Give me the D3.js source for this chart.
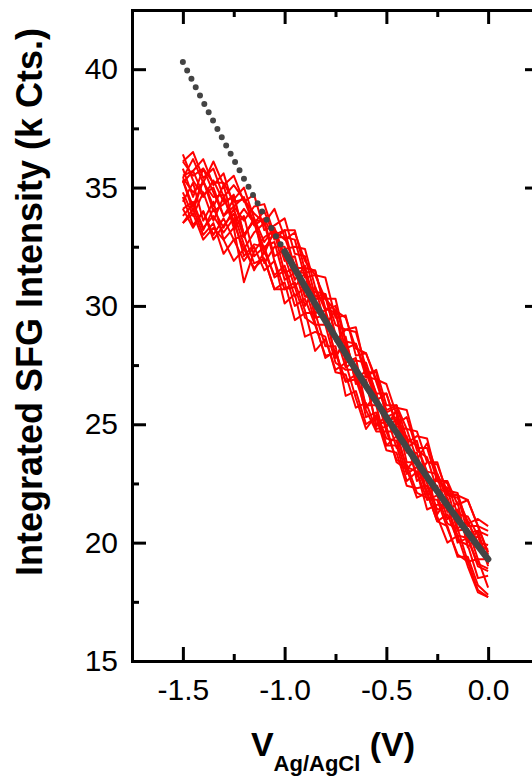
<!DOCTYPE html>
<meta charset="utf-8">
<style>
  body { margin: 0; background: #fff; }
  #sfgChart { font-family: 'Liberation Sans', Arial, sans-serif; }
  #sfgChart .axis path, #sfgChart .axis line { stroke: #000; stroke-width: 3; }
  #sfgChart .axis text { fill: #000; font-size: 30px; font-family: 'Liberation Sans', Arial, sans-serif; }
</style>
<div id="sfgChart"></div>
<script src="https://d3js.org/d3.v7.min.js"></script>
<script>
  // potential axis (V vs Ag/AgCl), one value every 50 mV
  var voltage = [-1.5, -1.45, -1.4, -1.35, -1.3, -1.25, -1.2, -1.15, -1.1, -1.05, -1.0,
    -0.95, -0.9, -0.85, -0.8, -0.75, -0.7, -0.65, -0.6, -0.55, -0.5,
    -0.45, -0.4, -0.35, -0.3, -0.25, -0.2, -0.15, -0.1, -0.05, 0.0];

  // integrated SFG intensity of each scan (k Cts.)
  var scan1 = [35.3, 34.2, 35.3, 34.2, 35.1, 33.5, 34.1, 33.5, 32.2, 33.2, 31.9, 32.1, 30.4, 30.6, 30.5, 28.7, 28.4, 26.8, 27.3, 26.2, 24.9, 25.2, 24.0, 24.3, 22.6, 22.6, 22.3, 20.6, 20.9, 19.9, 19.7];
  var scan2 = [34.1, 34.4, 33.3, 33.8, 33.1, 33.7, 32.1, 32.6, 32.5, 31.2, 31.5, 30.0, 30.3, 29.2, 29.2, 27.6, 27.3, 27.3, 25.3, 25.5, 24.4, 24.3, 22.9, 23.2, 22.1, 20.9, 21.2, 20.1, 19.9, 18.5, 18.6];
  var scan3 = [36.1, 36.5, 35.4, 35.8, 34.6, 35.1, 34.5, 33.4, 33.7, 32.8, 33.2, 31.6, 31.6, 31.5, 29.9, 29.7, 28.2, 28.4, 27.2, 26.0, 26.3, 25.0, 25.3, 23.9, 23.6, 22.2, 22.2, 22.1, 20.7, 20.7, 19.5];
  var scan4 = [33.5, 33.9, 32.8, 33.3, 32.8, 31.9, 32.4, 31.6, 32.0, 30.7, 30.7, 30.8, 29.5, 29.2, 27.9, 28.0, 26.8, 26.9, 25.6, 24.7, 24.7, 23.5, 23.3, 22.1, 21.9, 21.8, 20.6, 19.5, 19.2, 18.0, 17.7];
  var scan5 = [35.2, 35.7, 36.2, 35.1, 35.6, 34.2, 33.6, 34.2, 34.3, 33.0, 33.2, 33.2, 31.5, 30.3, 30.3, 30.3, 28.5, 28.4, 27.0, 26.9, 26.7, 25.4, 24.2, 24.5, 24.4, 22.7, 22.5, 21.2, 21.1, 20.3, 19.1];
  var scan6 = [34.4, 35.2, 33.6, 34.4, 32.8, 33.3, 33.8, 32.1, 32.5, 32.7, 31.1, 31.4, 31.4, 29.5, 29.6, 27.9, 28.4, 26.9, 26.8, 25.0, 25.1, 25.3, 23.4, 23.4, 22.0, 22.4, 21.0, 21.4, 20.0, 20.5, 19.1];
  var scan7 = [36.1, 35.5, 35.8, 35.2, 35.2, 34.4, 34.5, 33.9, 33.5, 34.1, 32.9, 32.8, 31.2, 31.3, 31.2, 29.5, 29.6, 27.9, 28.0, 26.8, 25.5, 25.7, 25.6, 24.0, 24.0, 22.6, 22.6, 21.6, 21.8, 20.7, 20.5];
  var scan8 = [34.1, 33.3, 34.0, 33.0, 33.7, 32.8, 31.9, 32.5, 31.5, 31.9, 30.1, 30.5, 28.7, 28.9, 28.7, 27.2, 27.1, 25.7, 25.9, 24.8, 24.9, 23.4, 23.1, 21.9, 22.1, 20.9, 20.7, 19.4, 19.4, 18.2, 17.8];
  var scan9 = [35.8, 34.6, 35.8, 34.8, 33.8, 34.5, 35.0, 33.7, 32.7, 33.3, 32.1, 30.8, 31.4, 31.5, 29.8, 28.5, 29.0, 29.1, 27.2, 27.2, 25.3, 25.5, 24.2, 22.8, 23.4, 23.4, 22.0, 22.0, 20.4, 20.5, 20.3];
  var scan10 = [34.6, 33.4, 34.0, 32.8, 33.4, 33.9, 32.6, 31.5, 32.3, 31.3, 31.7, 30.4, 30.8, 29.3, 27.8, 28.1, 26.8, 27.1, 25.8, 25.8, 24.1, 24.1, 22.6, 23.0, 21.8, 22.0, 20.8, 20.6, 19.2, 19.3, 18.1];
  var scan11 = [36.4, 35.3, 34.6, 35.3, 34.4, 34.6, 33.0, 33.6, 33.6, 32.1, 32.4, 32.5, 32.4, 30.8, 29.8, 30.0, 28.5, 27.1, 27.0, 27.3, 25.8, 25.8, 24.4, 24.1, 23.0, 22.9, 21.8, 20.8, 20.8, 21.0, 20.7];
  var scan12 = [33.5, 34.1, 33.0, 33.5, 32.2, 32.8, 33.0, 31.8, 32.0, 30.7, 31.0, 29.4, 29.7, 29.7, 28.3, 28.3, 26.2, 26.4, 25.0, 25.3, 23.9, 23.8, 22.4, 22.3, 22.4, 21.1, 20.0, 20.3, 19.0, 17.9, 17.7];
  var scan13 = [35.4, 36.2, 35.2, 36.1, 35.1, 35.5, 34.4, 34.7, 33.2, 33.4, 33.7, 32.2, 32.1, 30.4, 30.5, 29.2, 29.0, 28.9, 27.4, 26.3, 26.3, 24.9, 24.8, 24.7, 23.4, 23.3, 22.1, 22.0, 21.8, 20.7, 19.6];
  var scan14 = [34.8, 33.8, 34.8, 33.6, 34.6, 33.5, 32.4, 33.1, 33.5, 31.9, 30.7, 31.0, 29.8, 28.1, 28.6, 27.3, 27.6, 26.1, 24.8, 25.4, 24.1, 24.5, 23.2, 23.0, 21.4, 21.6, 21.6, 20.0, 20.2, 19.1, 18.9];
  var scan15 = [35.4, 34.8, 35.2, 34.6, 34.7, 33.3, 31.0, 32.3, 32.9, 33.2, 32.8, 33.1, 31.9, 31.3, 30.3, 29.8, 29.5, 28.2, 28.0, 26.9, 25.6, 25.8, 24.8, 23.5, 24.2, 22.9, 22.0, 21.9, 20.9, 20.0, 19.9];
  var scan16 = [35.3, 34.0, 35.3, 34.0, 34.3, 34.7, 33.0, 33.6, 32.4, 33.1, 31.4, 31.6, 30.0, 30.8, 29.2, 29.8, 27.6, 27.8, 25.7, 26.3, 24.9, 25.6, 23.8, 23.8, 22.1, 22.8, 21.3, 21.7, 19.8, 20.3, 19.0];
  var scan17 = [33.8, 34.3, 33.2, 34.1, 33.3, 34.1, 32.9, 33.7, 31.8, 32.5, 32.5, 31.1, 31.7, 29.7, 29.8, 27.8, 28.7, 26.7, 26.9, 24.9, 25.4, 24.0, 24.5, 22.6, 23.0, 21.2, 21.9, 20.5, 20.6, 19.3, 19.3];
  var scan18 = [35.5, 35.7, 34.7, 35.0, 33.8, 34.2, 34.6, 33.5, 34.0, 32.9, 32.9, 31.7, 30.4, 30.3, 30.4, 28.8, 27.4, 27.7, 27.6, 26.3, 24.7, 24.7, 23.1, 23.6, 22.5, 21.4, 21.5, 20.3, 20.2, 19.0, 18.8];
  var scans = [scan1, scan2, scan3, scan4, scan5, scan6, scan7, scan8, scan9,
    scan10, scan11, scan12, scan13, scan14, scan15, scan16, scan17, scan18];

  // fitted curve, same voltage grid; dotted below -1.0 V (extrapolation)
  var fitI = [40.3, 39.46, 38.62, 37.8, 36.98, 36.18, 35.38, 34.6, 33.82, 33.06, 32.3,
    31.56, 30.82, 30.1, 29.38, 28.68, 27.98, 27.3, 26.62, 25.96, 25.3,
    24.66, 24.02, 23.4, 22.78, 22.18, 21.58, 21.0, 20.42, 19.86, 19.3];
  var fitStart = -1.0;

  var xMajor = [-1.5, -1.0, -0.5, 0.0];
  var xMinor = [-1.75, -1.25, -0.75, -0.25, 0.25];
  var yMajor = [15, 20, 25, 30, 35, 40];
  var yMinor = [17.5, 22.5, 27.5, 32.5, 37.5, 42.5];

  var width = 532,
    height = 781;
  var plotL = 132, plotR = 539, plotT = 10, plotB = 661;

  var svg = d3.select("#sfgChart").append("svg")
    .attr("width", width).attr("height", height);

  var x = d3.scaleLinear().domain([-1.75, 0.25]).range([plotL, plotR]);
  var y = d3.scaleLinear().domain([15, 42.5]).range([plotB, plotT]);

  var line = d3.line()
    .x(function(d) { return x(d[0]); })
    .y(function(d) { return y(d[1]); });

  // scans
  svg.append("g").selectAll("path")
    .data(scans)
    .enter().append("path")
    .attr("d", function(s) {
      return line(s.map(function(v, i) { return [voltage[i], v]; }));
    })
    .attr("fill", "none")
    .attr("stroke", "#ff0000")
    .attr("stroke-width", 2)
    .attr("stroke-linejoin", "round");

  // fit
  var fitPts = fitI.map(function(v, i) { return [voltage[i], v]; });
  svg.append("path")
    .attr("d", line(fitPts.filter(function(d) { return d[0] <= fitStart + 1e-9; })))
    .attr("fill", "none")
    .attr("stroke", "#444")
    .attr("stroke-width", 6)
    .attr("stroke-linecap", "round")
    .attr("stroke-dasharray", "0,9.4");
  svg.append("path")
    .attr("d", line(fitPts.filter(function(d) { return d[0] >= fitStart - 1e-9; })))
    .attr("fill", "none")
    .attr("stroke", "#444")
    .attr("stroke-width", 6.5)
    .attr("stroke-linecap", "round");

  // axes (ticks point inwards)
  function addAxis(axis, tx, ty) {
    return svg.append("g").attr("class", "axis")
      .attr("transform", "translate(" + tx + "," + ty + ")")
      .call(axis);
  }
  var fmtX = d3.format(".1f");
  addAxis(d3.axisBottom(x).tickValues(xMajor).tickSize(-14).tickSizeOuter(0).tickPadding(18)
    .tickFormat(function(d) { return fmtX(d).replace("−", "-"); }), 0, plotB);
  addAxis(d3.axisBottom(x).tickValues(xMinor).tickSize(-7).tickSizeOuter(0).tickFormat(""), 0, plotB);
  addAxis(d3.axisTop(x).tickValues(xMajor).tickSize(-14).tickSizeOuter(0).tickFormat(""), 0, plotT);
  addAxis(d3.axisTop(x).tickValues(xMinor).tickSize(-7).tickSizeOuter(0).tickFormat(""), 0, plotT);
  addAxis(d3.axisLeft(y).tickValues(yMajor).tickSize(-14).tickSizeOuter(0).tickPadding(14), plotL, 0);
  addAxis(d3.axisLeft(y).tickValues(yMinor).tickSize(-7).tickSizeOuter(0).tickFormat(""), plotL, 0);
  addAxis(d3.axisRight(y).tickValues(yMajor).tickSize(-14).tickSizeOuter(0).tickFormat(""), plotR, 0);
  addAxis(d3.axisRight(y).tickValues(yMinor).tickSize(-7).tickSizeOuter(0).tickFormat(""), plotR, 0);
  svg.selectAll(".axis path").attr("stroke-linecap", "square");

  // axis titles
  svg.append("text")
    .attr("transform", "translate(42,302) rotate(-90)")
    .attr("text-anchor", "middle")
    .style("font-size", "36px")
    .style("font-weight", "bold")
    .text("Integrated SFG Intensity (k Cts.)");

  var xt = svg.append("text")
    .attr("x", 333)
    .attr("y", 756)
    .attr("text-anchor", "middle")
    .style("font-weight", "bold")
    .style("font-size", "34px");
  xt.append("tspan").text("V");
  xt.append("tspan").attr("dy", 15).style("font-size", "22px").text("Ag/AgCl");
  xt.append("tspan").attr("dy", -15).text(" (V)");
</script>
